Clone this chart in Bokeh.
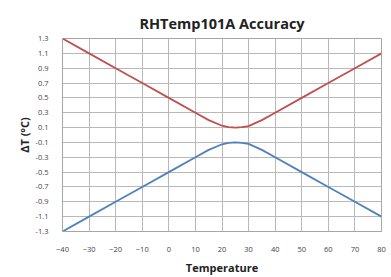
from bokeh.plotting import figure
from bokeh.models import FixedTicker, Range1d
from bokeh.embed import file_html
from bokeh.resources import INLINE

temps = [-40, -30, -20, -10, 0, 10, 15, 20, 22.5, 25, 27.5, 30, 35, 40, 50, 60, 70, 80]
upper = [1.3, 1.1, 0.9, 0.7, 0.5, 0.3, 0.2, 0.125, 0.105, 0.1, 0.105, 0.12, 0.2, 0.3, 0.5, 0.7, 0.9, 1.1]
lower = [-v for v in upper]
x_ticks = list(range(-40, 81, 10))
y_ticks = [-1.3, -1.1, -0.9, -0.7, -0.5, -0.3, -0.1, 0.1, 0.3, 0.5, 0.7, 0.9, 1.1, 1.3]

FONT = "Open Sans"

p = figure(width=391, height=277, output_backend="svg", toolbar_location=None,
           x_range=Range1d(-40, 80), y_range=Range1d(-1.3, 1.3),
           min_border_left=62, min_border_right=10, min_border_top=38, min_border_bottom=43,
           title="RHTemp101A Accuracy")

p.title.text_font = FONT
p.title.text_font_size = "14.5px"
p.title.text_font_style = "bold"
p.title.align = "center"
p.title.offset = -20
p.title.standoff = 12
p.title.text_color = "#222222"

p.line(temps, upper, line_color="#c0504d", line_width=1.8)
p.line(temps, lower, line_color="#4f81bd", line_width=1.8)

p.xaxis.ticker = FixedTicker(ticks=x_ticks)
p.yaxis.ticker = FixedTicker(ticks=y_ticks)
p.yaxis.major_label_overrides = {t: ("%.1f" % t) for t in y_ticks}
for ax in (p.xaxis[0], p.yaxis[0]):
    ax.major_label_text_font = FONT
    ax.major_label_text_font_size = "7.5px"
    ax.major_label_text_color = "#444444"
    ax.axis_line_color = "#a6a6a6"
    ax.major_tick_line_color = None
    ax.minor_tick_line_color = None
    ax.axis_label_text_font = FONT
    ax.axis_label_text_font_size = "11px"
    ax.axis_label_text_font_style = "bold"
    ax.axis_label_text_color = "#222222"
p.xaxis.axis_label = "Temperature"
p.yaxis.axis_label = "ΔT (°C)"
p.xaxis.major_label_standoff = 9
p.yaxis.major_label_standoff = 8
p.xaxis.axis_label_standoff = 5
p.yaxis.axis_label_standoff = 1

p.xgrid.grid_line_color = "#b8b8b8"
p.ygrid.grid_line_color = "#b8b8b8"
p.outline_line_color = "#a6a6a6"

open("out.html", "w").write(file_html(p, INLINE))
